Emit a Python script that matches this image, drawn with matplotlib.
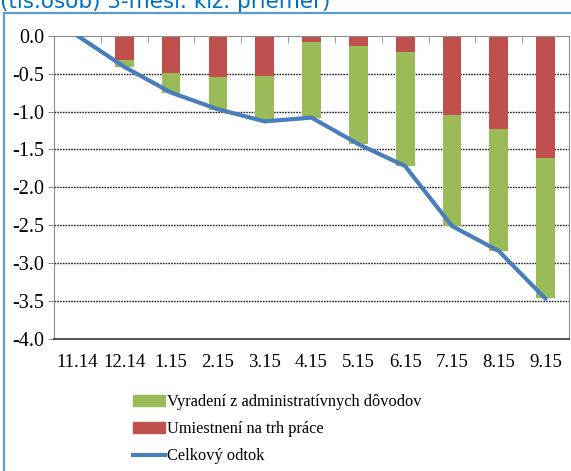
import matplotlib
matplotlib.use("Agg")
import matplotlib.pyplot as plt
from matplotlib.patches import Patch, Rectangle
from matplotlib.lines import Line2D
import numpy as np

# mesiace
months = ["11.14", "12.14", "1.15", "2.15", "3.15", "4.15", "5.15", "6.15", "7.15", "8.15", "9.15"]

# umiestnenie na trh prace (cervene), vyradenie z adm. dovodov (zelene), celkovy odtok
placed = [0.0, -0.32, -0.49, -0.545, -0.53, -0.08, -0.14, -0.22, -1.04, -1.23, -1.61]
admin = [0.0, -0.09, -0.26, -0.43, -0.58, -1.00, -1.29, -1.50, -1.47, -1.61, -1.85]
total = [0.0, -0.41, -0.75, -0.97, -1.13, -1.08, -1.43, -1.72, -2.51, -2.84, -3.47]

green = "#9bbb59"
red = "#c0504d"
blue = "#4a7ebb"

plt.rcParams["font.family"] = ["Liberation Serif", "DejaVu Serif"]

fig = plt.figure(figsize=(5.71, 4.71), dpi=100)
ax = fig.add_axes([54 / 571, 1 - 339 / 471, 515 / 571, 303.3 / 471])

x = np.arange(len(months))
ax.bar(x, placed, width=0.4, color=red, zorder=2)
ax.bar(x, admin, width=0.4, bottom=placed, color=green, zorder=2)
ax.plot(x, total, color=blue, lw=3.0, zorder=3, solid_capstyle="round")

ax.set_xlim(-0.5, len(months) - 0.5)
ax.set_ylim(-4.0, 0.0)
ax.set_yticks(np.arange(-4.0, 0.01, 0.5))
ax.set_yticklabels(["%.1f" % v for v in np.arange(-4.0, 0.01, 0.5)], fontsize=14.5)
ax.set_xticks(x)
ax.set_xticklabels(months, fontsize=13.5)
ax.tick_params(axis="x", which="major", length=0, pad=11)
ax.set_xticks(np.arange(-0.5, len(months), 1.0), minor=True)
ax.tick_params(axis="x", which="minor", bottom=False, top=True, direction="in",
               length=5, color="#8c8c8c")
ax.tick_params(axis="y", length=4, color="#8c8c8c", pad=3)

for v in np.arange(-3.5, -0.4, 0.5):
    ax.axhline(v, color="#222222", lw=1.0, ls=(0, (1.2, 0.8)), zorder=1)

for s in ["left", "top", "right"]:
    ax.spines[s].set_color("#8c8c8c")
ax.spines["bottom"].set_color("#333333")
ax.spines["bottom"].set_linewidth(1.2)

handles = [Patch(color=green), Patch(color=red), Line2D([], [], color=blue, lw=3)]
labels = ["Vyradení z administratívnych dôvodov", "Umiestnení na trh práce", "Celkový odtok"]
fig.legend(handles, labels, loc="upper left", bbox_to_anchor=(133 / 571, 1 - 394 / 471),
           frameon=False, fontsize=11.8, handlelength=1.95, handletextpad=0.12,
           labelspacing=0.68, borderpad=0, borderaxespad=0)

# ramcek a orezany nadpis
fig.patches.append(Rectangle((4 / 571, -0.1), 1.2, 1 - 12.5 / 471 + 0.1,
                             transform=fig.transFigure, fill=False,
                             edgecolor="#5b9bd5", lw=1.6))
fig.text(0.0, 1 - 8 / 471, "(tis.osôb) 3-mesi. kĺz. priemer)", color="#0070c0",
         fontsize=15.5, family="DejaVu Sans", va="baseline", ha="left")

fig.savefig("out.png", dpi=100)
